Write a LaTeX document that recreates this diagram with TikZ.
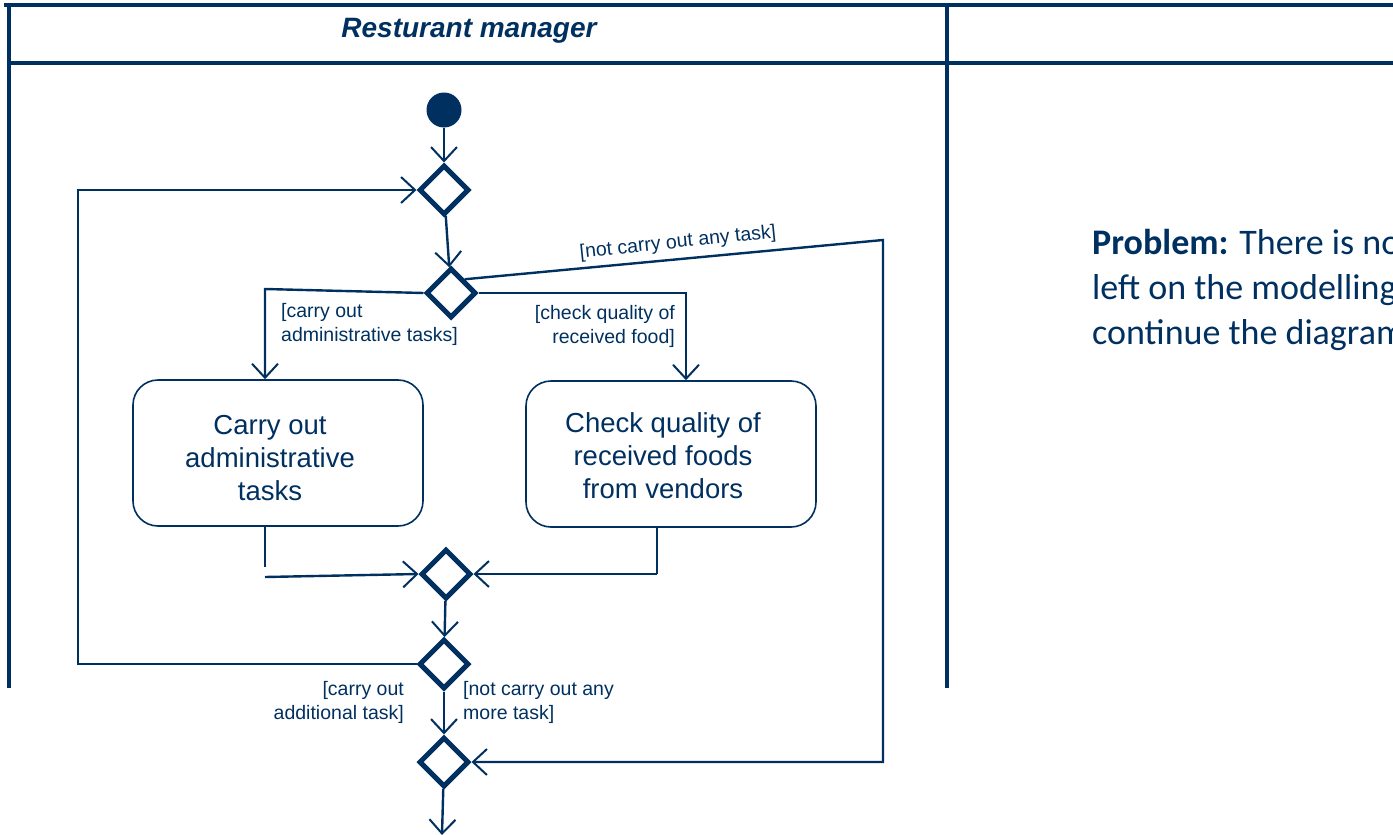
\documentclass[tikz,border=0pt]{standalone}
\usepackage{fontspec}
\setmainfont{Liberation Sans}
\newfontfamily\calib{Carlito}
\usetikzlibrary{shapes.geometric,arrows.meta}
\definecolor{navy}{RGB}{0,48,96}
\tikzset{
  frame/.style={draw=navy,line width=4pt},
  dec/.style={draw=navy,diamond,line width=5pt,minimum width=50pt,minimum height=50pt,inner sep=0pt,line join=miter},
  startdot/.style={circle,fill=navy,minimum size=35pt,inner sep=0pt},
  act/.style={draw=navy,rectangle,rounded corners=25pt,line width=1.6pt,minimum width=290pt,minimum height=146pt,align=center,text=navy,font=\fontsize{27.5}{33}\selectfont},
  arr/.style={draw=navy,line width=2.4pt,-{Straight Barb[length=14pt,width=26pt,line width=2pt]}},
  thin/.style={draw=navy,line width=1.5pt},
  guard/.style={text=navy,font=\fontsize{19.5}{24}\selectfont,inner sep=0pt},
}
\begin{document}
\begin{tikzpicture}[x=1pt,y=-1pt]
\useasboundingbox (0,0) rectangle (1393,835);
\clip (0,0) rectangle (1393,835);
% swimlane frame
\draw[frame] (9,688) -- (9,5);
\draw[frame] (4,5) -- (1393,5);
\draw[frame] (9,63) -- (1393,63);
\draw[frame] (947,5) -- (947,688);
\node[text=navy,font=\fontsize{28}{32}\selectfont\bfseries\itshape] (title) at (469,31) {Resturant manager};
% nodes
\node[startdot] (init) at (444,110) {};
\node[dec] (d1) at (444,190) {};
\node[dec] (d2) at (451,293) {};
\node[act] (a1) at (278,453) {};
\node[text=navy,align=center,font=\fontsize{27.5}{33}\selectfont] (t1) at (270,458) {Carry out\\administrative\\tasks};
\node[act] (a2) at (671,454) {};
\node[text=navy,align=center,font=\fontsize{27.5}{33}\selectfont] (t2) at (663,456) {Check quality of\\received foods\\from vendors};
\node[dec] (d3) at (446,574) {};
\node[dec] (d4) at (444,664) {};
\node[dec] (d5) at (444,762) {};
% coordinates
\coordinate (c1) at (265,289);
\coordinate (c2) at (686,293);
\coordinate (c3) at (883,240);
\coordinate (c4) at (883,762);
\coordinate (c5) at (265,577);
\coordinate (c6) at (657,574);
\coordinate (c7) at (78,664);
\coordinate (c8) at (78,190);
\coordinate (out) at (442,835);
% connectors
\draw[arr] (init) -- (d1);
\draw[arr] (d1) -- (d2);
\draw[arr] (d2.west) -- (c1) -- (c1 |- a1.north);
\draw[arr] (d2.east) -- (c2) -- (c2 |- a2.north);
\draw[arr] (d2.north east) -- (c3) -- (c4) -- (d5.east);
\draw[thin] (c5 |- a1.south) -- (265,567);
\draw[arr] (c5) -- (d3.west);
\draw[thin] (c6 |- a2.south) -- (c6);
\draw[arr] (c6) -- (d3.east);
\draw[arr] (d3) -- (d4);
\draw[arr] (d4.west) -- (c7) -- (c8) -- (d1.west);
\draw[arr] (d4) -- (d5);
\draw[arr] (d5) -- (out);
% guards
\node[guard,anchor=south,rotate=6] (g1) at (679,252) {[not carry out any task]};
\node[guard,anchor=north west,align=left] (g2) at (281,303) {[carry out\\administrative tasks]};
\node[guard,anchor=north east,align=right] (g3) at (675,305) {[check quality of\\received food]};
\node[guard,anchor=north east,align=right] (g4) at (404,681) {[carry out\\additional task]};
\node[guard,anchor=north west,align=left] (g5) at (463,681) {[not carry out any\\more task]};
% problem text
\node[text=navy,anchor=north west,align=left,inner sep=0pt,font=\calib\fontsize{36}{45}\selectfont] (prob) at (1092,229) {\textbf{Problem:} There is no\\left on the modelling\\continue the diagram};
\end{tikzpicture}
\end{document}
